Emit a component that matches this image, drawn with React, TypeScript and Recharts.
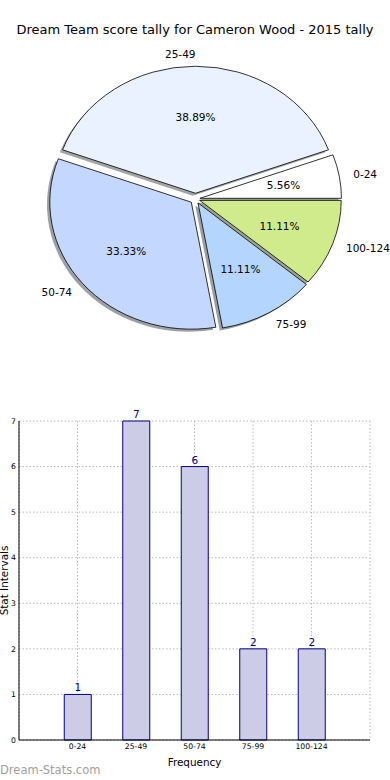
import React from "react";
import { PieChart, Pie, BarChart, Bar, XAxis, YAxis, CartesianGrid, LabelList } from "recharts";

// score bands and how many rounds fell into each
const CATEGORIES = ["0-24", "25-49", "50-74", "75-99", "100-124"];
const COUNTS = [1, 7, 6, 2, 2];
const Y_TICKS = [0, 1, 2, 3, 4, 5, 6, 7];

const SLICE_COLORS = ["#ffffff", "#ebf2ff", "#c4d7fe", "#b4d5fe", "#cfeb8c"];
const EXPLODE = [4.5, 6.4, 5.5, 5, 4.5]; // px push-out per slice
const Y_SCALE = 127 / 141.5; // the original pie is slightly squashed
const RAD = Math.PI / 180;
const FONT = "'DejaVu Sans', sans-serif";

const pieData = CATEGORIES.map((name, i) => ({ name, value: COUNTS[i], fill: SLICE_COLORS[i] }));
const barData = CATEGORIES.map((name, i) => ({ name, value: COUNTS[i] }));

function sliceIndex(p: any) {
  return CATEGORIES.indexOf(p.payload?.name ?? p.name);
}

function vertex(p: any) {
  const e = EXPLODE[sliceIndex(p)] ?? 0;
  const m = p.midAngle * RAD;
  return { vx: p.cx + e * Math.cos(m), vy: p.cy - e * Math.sin(m) * Y_SCALE };
}

function wedgePath(p: any, ox: number, oy: number) {
  const rx = p.outerRadius;
  const ry = rx * Y_SCALE;
  const { vx, vy } = vertex(p);
  const x0 = vx + ox;
  const y0 = vy + oy;
  const s = p.startAngle * RAD;
  const t = p.endAngle * RAD;
  const x1 = x0 + rx * Math.cos(s);
  const y1 = y0 - ry * Math.sin(s);
  const x2 = x0 + rx * Math.cos(t);
  const y2 = y0 - ry * Math.sin(t);
  const large = Math.abs(p.endAngle - p.startAngle) > 180 ? 1 : 0;
  return `M${x0},${y0} L${x1},${y1} A${rx},${ry} 0 ${large} 0 ${x2},${y2} Z`;
}

function shadowColor(hex: string) {
  const n = parseInt(hex.slice(1), 16);
  const r = Math.round(((n >> 16) & 255) * 0.3);
  const g = Math.round(((n >> 8) & 255) * 0.3);
  const b = Math.round((n & 255) * 0.3);
  return `rgba(${r},${g},${b},0.5)`;
}

const ShadowShape = (p: any) => (
  <path d={wedgePath(p, -2.8, 2.5)} fill={shadowColor(SLICE_COLORS[sliceIndex(p)] || "#ffffff")} stroke="none" />
);

const WedgeShape = (p: any) => (
  <path d={wedgePath(p, 0, 0)} fill={SLICE_COLORS[sliceIndex(p)]} stroke="#000" strokeWidth={0.8} />
);

const renderPieLabel = (p: any) => {
  const rx = p.outerRadius;
  const ry = rx * Y_SCALE;
  const { vx, vy } = vertex(p);
  const m = p.midAngle * RAD;
  const c = Math.cos(m);
  const sn = Math.sin(m);
  const name = p.payload?.name ?? p.name;
  return (
    <g>
      <text
        x={vx + 1.1 * rx * c}
        y={vy - 1.1 * ry * sn}
        textAnchor={c > 0.01 ? "start" : "end"}
        dominantBaseline="central"
        fontSize={10.5}
        fontFamily={FONT}
        fill="#000"
      >
        {name}
      </text>
      <text
        x={vx + 0.6 * rx * c}
        y={vy - 0.6 * ry * sn}
        textAnchor="middle"
        dominantBaseline="central"
        fontSize={10.5}
        fontFamily={FONT}
        fill="#000"
      >
        {(p.percent * 100).toFixed(2)}%
      </text>
    </g>
  );
};

const YLabel = (props: any) => {
  const vb = props.viewBox || { x: 0, y: 0, height: 0 };
  const x = vb.x + 4;
  const y = vb.y + vb.height / 2;
  return (
    <text
      x={x}
      y={y}
      transform={`rotate(-90 ${x} ${y})`}
      textAnchor="middle"
      dominantBaseline="central"
      fontSize={10.4}
      fontFamily={FONT}
      fill="#000"
    >
      Stat Intervals
    </text>
  );
};

export default function App() {
  const tickStyle = { fontSize: 7.7, fill: "#000", fontFamily: FONT };
  return (
    <div style={{ position: "absolute", left: 0, top: 0, width: 390, height: 780, background: "#fff", fontFamily: FONT }}>
      <div style={{ position: "absolute", left: 0, top: 21, width: 390, textAlign: "center", fontSize: 13, lineHeight: "18px", color: "#000" }}>
        Dream Team score tally for Cameron Wood - 2015 tally
      </div>
      <div style={{ position: "absolute", left: 0, top: 0 }}>
        <PieChart width={390} height={380} margin={{ top: 0, right: 0, bottom: 0, left: 0 }}>
          <Pie
            data={pieData}
            dataKey="value"
            cx={195.5}
            cy={199}
            outerRadius={141.5}
            startAngle={0}
            endAngle={360}
            shape={ShadowShape}
            stroke="none"
            isAnimationActive={false}
          />
          <Pie
            data={pieData}
            dataKey="value"
            cx={195.5}
            cy={199}
            outerRadius={141.5}
            startAngle={0}
            endAngle={360}
            shape={WedgeShape}
            label={renderPieLabel}
            labelLine={false}
            isAnimationActive={false}
          />
        </PieChart>
      </div>
      <div style={{ position: "absolute", left: 0, top: 400 }}>
        <BarChart width={390} height={380} data={barData} margin={{ top: 21, right: 20, bottom: 0, left: 0 }}>
          <XAxis
            dataKey="name"
            padding={{ left: 29.25, right: 29.25 }}
            interval={0}
            tickLine={false}
            tickSize={0}
            tickMargin={4}
            height={40}
            axisLine={{ stroke: "#000" }}
            tick={tickStyle}
            label={{ value: "Frequency", position: "insideBottom", offset: 14, fontSize: 10.4, fill: "#000", fontFamily: FONT }}
          />
          <YAxis
            domain={[0, 7]}
            ticks={Y_TICKS}
            width={19}
            tickLine={false}
            tickSize={0}
            tickMargin={3}
            axisLine={{ stroke: "#000" }}
            tick={tickStyle}
            label={{ content: YLabel }}
          />
          <XAxis
            xAxisId="top"
            orientation="top"
            dataKey="name"
            padding={{ left: 29.25, right: 29.25 }}
            interval={0}
            height={0}
            mirror
            tick={false}
            tickSize={3}
            tickLine={{ stroke: "#b0b0b0" }}
            axisLine={{ stroke: "#000" }}
          />
          <YAxis
            yAxisId="right"
            orientation="right"
            domain={[0, 7]}
            ticks={Y_TICKS}
            width={0}
            mirror
            tick={false}
            tickSize={3}
            tickLine={{ stroke: "#b0b0b0" }}
            axisLine={{ stroke: "#000" }}
          />
          <Bar dataKey="value" barSize={27} fill="#ccccE6" stroke="#000080" strokeWidth={1} isAnimationActive={false}>
            <LabelList dataKey="value" position="top" offset={3} fill="#000080" fontSize={10.5} fontFamily={FONT} />
          </Bar>
          <CartesianGrid stroke="#bbbbbb" strokeDasharray="1.5 2" />
        </BarChart>
      </div>
      <div style={{ position: "absolute", left: 0, top: 762, fontSize: 11.5, lineHeight: "16px", color: "#a0a0a0" }}>
        Dream-Stats.com
      </div>
    </div>
  );
}
